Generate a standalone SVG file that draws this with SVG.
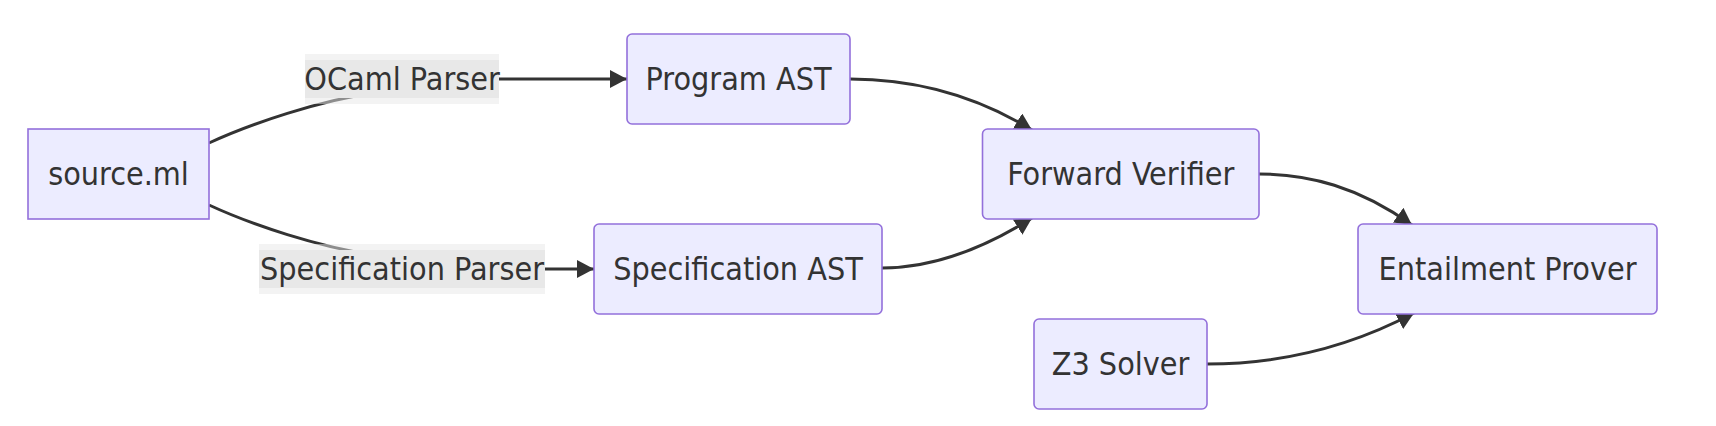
<svg xmlns="http://www.w3.org/2000/svg" width="1716" height="426" viewBox="0 0 1716 426">
<style>
.node rect{fill:#ECECFF;stroke:#9370DB;stroke-width:1.6}
.node text,.lbl text{font-family:"DejaVu Sans Condensed","DejaVu Sans",sans-serif;font-stretch:condensed;font-size:32px;fill:#333;text-anchor:middle}
.edge{fill:none;stroke:#333;stroke-width:3;marker-end:url(#arrow)}
.lbl .outer{fill:#e8e8e8;opacity:0.5}
.lbl .inner{fill:#e8e8e8}
</style>
<defs>
<marker id="arrow" viewBox="0 0 10 10" refX="10" refY="5" markerUnits="userSpaceOnUse" markerWidth="17" markerHeight="18" orient="auto" preserveAspectRatio="none">
<path d="M0,0 L10,5 L0,10 z" fill="#333"/>
</marker>
</defs>
<g id="connectors">
<path class="edge" d="M209,143 C250,124 320,100 380,92 C420,86 440,79 499,79 L627,79"/>
<path class="edge" d="M209,205 C250,224 320,248 380,256 C420,262 440,269 499,269 L594,269"/>
<path class="edge" d="M850,79 C910,79 970,92 1032,130"/>
<path class="edge" d="M882,268 C931,268 981,250 1032,218"/>
<path class="edge" d="M1259,174 C1309,174 1359,187 1412,225"/>
<path class="edge" d="M1207,364 C1275,364 1344,350 1414,313"/>
</g>
<g id="label-ocaml" class="lbl">
<rect class="outer" x="305" y="54" width="194" height="50"/>
<rect class="inner" x="305" y="60" width="194" height="38"/>
<text x="402" y="90">OCaml Parser</text>
</g>
<g id="label-spec" class="lbl">
<rect class="outer" x="259" y="244" width="286" height="50"/>
<rect class="inner" x="259" y="250" width="286" height="38"/>
<text x="402" y="280">Specification Parser</text>
</g>
<g id="source" class="node">
<rect x="28" y="129" width="181" height="90"/>
<text x="118.5" y="185">source.ml</text>
</g>
<g id="program-ast" class="node">
<rect x="627" y="34" width="223" height="90" rx="5"/>
<text x="738.5" y="90">Program AST</text>
</g>
<g id="spec-ast" class="node">
<rect x="594" y="224" width="288" height="90" rx="5"/>
<text x="738" y="280">Specification AST</text>
</g>
<g id="forward-verifier" class="node">
<rect x="982.5" y="129" width="276.5" height="90" rx="5"/>
<text x="1120.75" y="185">Forward Verifier</text>
</g>
<g id="entailment-prover" class="node">
<rect x="1358" y="224" width="299" height="90" rx="5"/>
<text x="1507.5" y="280">Entailment Prover</text>
</g>
<g id="z3-solver" class="node">
<rect x="1034" y="319" width="173" height="90" rx="5"/>
<text x="1120.5" y="375">Z3 Solver</text>
</g>
</svg>
